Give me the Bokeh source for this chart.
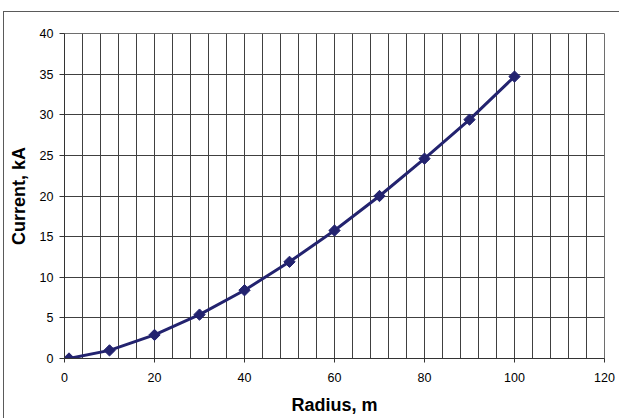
import math
from bokeh.plotting import figure
from bokeh.models import Range1d, FixedTicker
from bokeh.embed import file_html
from bokeh.resources import INLINE

# ---- data ----
radius_m = [1, 10, 20, 30, 40, 50, 60, 70, 80, 90, 100]
current_kA = [0.0, 1.0, 2.9, 5.4, 8.4, 11.9, 15.75, 20.0, 24.6, 29.4, 34.7]
x_ticks = [0, 20, 40, 60, 80, 100, 120]
y_ticks = [0, 5, 10, 15, 20, 25, 30, 35, 40]
x_grid_ticks = list(range(0, 121, 4))
x_title = "Radius, m"
y_title = "Current, kA"

FONT = "Liberation Sans"
NAVY = "#23236f"

p = figure(
    width=616, height=407,
    x_range=Range1d(0, 120), y_range=Range1d(0, 40),
    output_backend="svg", toolbar_location=None,
    min_border_left=60, min_border_top=21, min_border_right=16, min_border_bottom=61,
    margin=(11, 0, 0, 3),
    styles={"border-top": "1px solid #5a5a5a", "border-left": "1px solid #5a5a5a"},
)
p.background_fill_color = "white"
p.border_fill_color = "white"
p.outline_line_color = "#6e6e6e"
p.outline_line_width = 1

# grids
p.xgrid.ticker = FixedTicker(ticks=x_grid_ticks)
p.ygrid.ticker = FixedTicker(ticks=y_ticks)
for g in (p.xgrid, p.ygrid):
    g.grid_line_color = "#404040"
    g.grid_line_width = 1
    g.grid_line_alpha = 1.0

# axes
p.xaxis.ticker = FixedTicker(ticks=x_ticks)
p.yaxis.ticker = FixedTicker(ticks=y_ticks)
for ax in (p.xaxis, p.yaxis):
    ax.axis_line_color = "#333333"
    ax.major_tick_line_color = "#333333"
    ax.minor_tick_line_color = None
    ax.major_tick_in = 0
    ax.major_label_text_font = FONT
    ax.major_label_text_font_size = "12.5px"
    ax.major_label_text_color = "#000000"
    ax.axis_label_text_font = FONT
    ax.axis_label_text_font_style = "bold"
    ax.axis_label_text_font_size = "18px"
    ax.axis_label_text_color = "#000000"
p.xaxis.major_tick_out = 4
p.yaxis.major_tick_out = 5
p.xaxis.major_label_standoff = 10
p.yaxis.major_label_standoff = 6
p.xaxis.axis_label = x_title
p.yaxis.axis_label = y_title
p.xaxis.axis_label_standoff = 10
p.yaxis.axis_label_standoff = 8

p.line(radius_m, current_kA, line_width=3, line_color=NAVY)
p.scatter(radius_m, current_kA, marker="square", size=8, angle=math.pi / 4,
          fill_color=NAVY, line_color=NAVY, line_width=1)

open("out.html", "w").write(file_html(p, INLINE))
